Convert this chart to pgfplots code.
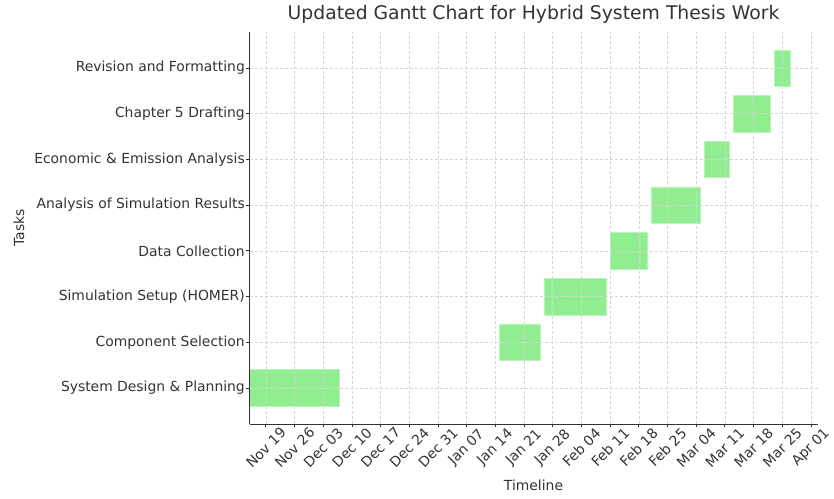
\documentclass[border=0pt]{standalone}
\usepackage{pgfplots}
\usepackage{pgfplotstable}
\pgfplotsset{compat=1.18}
\usepackage{fontspec}
\setmainfont{DejaVu Sans}
\definecolor{barfill}{HTML}{90EE90}
\definecolor{baredge}{HTML}{B8F5B8}
\definecolor{txt}{HTML}{333333}
\definecolor{gridc}{HTML}{D6D6D6}
% days counted from Nov 15 (day 0)
\pgfplotstableread{
y start dur
0 0 22
1 61 10
2 72 15
3 88 9
4 98 12
5 111 6
6 118 9
7 128 4
}\tasks
\begin{document}
\begin{tikzpicture}
\begin{axis}[
  at={(249.5bp,75bp)}, anchor=south west,
  scale only axis, width=568bp, height=392bp,
  xmin=0, xmax=138.6, ymin=-0.79, ymax=7.79,
  xbar stacked, bar width=0.8,
  axis x line*=bottom, axis y line*=left,
  axis line style={txt, line width=1bp},
  axis on top,
  tick align=outside, major tick length=3.5bp,
  tick style={txt, line width=0.8bp},
  grid=major,
  major grid style={gridc, line width=0.6bp, dash pattern=on 3bp off 2bp},
  xtick={4,11,...,137},
  xticklabels={Nov 19,Nov 26,Dec 03,Dec 10,Dec 17,Dec 24,Dec 31,Jan 07,Jan 14,Jan 21,Jan 28,Feb 04,Feb 11,Feb 18,Feb 25,Mar 04,Mar 11,Mar 18,Mar 25,Apr 01},
  ytick={0,...,7},
  yticklabels={System Design \& Planning,Component Selection,Simulation Setup (HOMER),Data Collection,Analysis of Simulation Results,Economic \& Emission Analysis,Chapter 5 Drafting,Revision and Formatting},
  ticklabel style={font=\fontsize{13.9bp}{16bp}\selectfont, text=txt},
  xticklabel style={anchor=center, inner sep=0pt, yshift=-20bp, rotate=45},
  yticklabel style={anchor=east, inner sep=0pt, xshift=-1bp},
  xlabel={Timeline}, ylabel={Tasks},
  label style={font=\fontsize{13.9bp}{16bp}\selectfont, text=txt},
  xlabel style={at={(axis description cs:0.5,-0.156)}, anchor=center},
  ylabel style={at={(axis description cs:-0.4058,0.5)}, anchor=center, rotate=0},
  title={Updated Gantt Chart for Hybrid System Thesis Work},
  title style={at={(axis description cs:0.5,1)}, anchor=base, yshift=6.5bp, font=\fontsize{18.8bp}{22bp}\selectfont, text=txt},
  /pgf/number format/assume math mode=true,
]
\addplot[draw=none, fill=none] table[x=start, y=y] {\tasks};
\addplot[fill=barfill, draw=baredge, line width=0.6bp] table[x=dur, y=y] {\tasks};
\end{axis}
\pgfresetboundingbox
\path[use as bounding box] (0,0) rectangle (834bp,499bp);
\end{tikzpicture}
\end{document}
